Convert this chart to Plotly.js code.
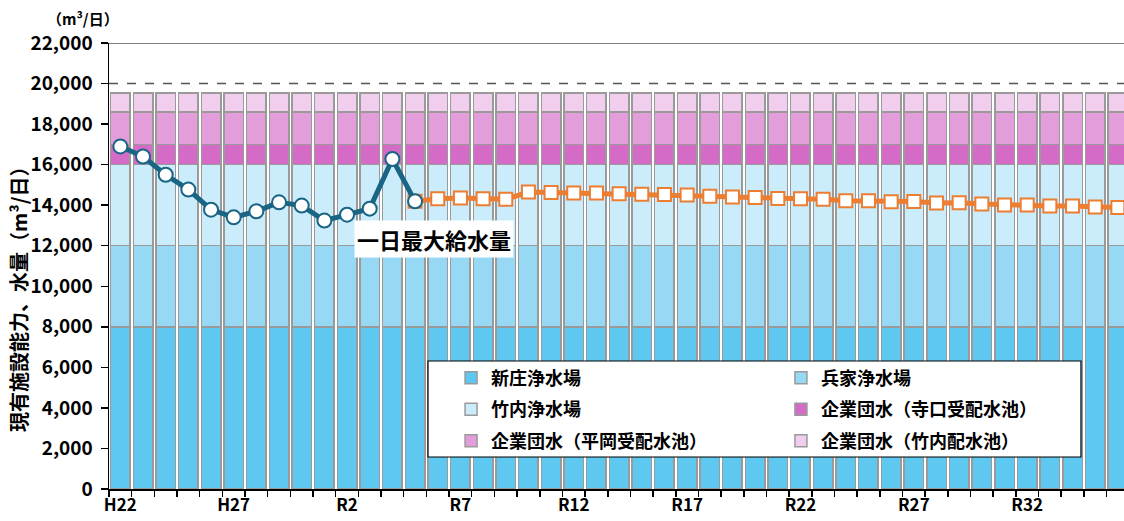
<!DOCTYPE html>
<html>
<head>
<meta charset="utf-8">
<script src="https://cdn.plot.ly/plotly-3.0.1.min.js"></script>
<style>html,body{margin:0;padding:0;background:#fff;}#chart{width:1124px;height:521px;}</style>
</head>
<body>
<div id="chart"></div>
<script>
// ---- data ----
const years = ['H22','H23','H24','H25','H26','H27','H28','H29','H30','R1',
  'R2','R3','R4','R5','R6','R7','R8','R9','R10','R11',
  'R12','R13','R14','R15','R16','R17','R18','R19','R20','R21',
  'R22','R23','R24','R25','R26','R27','R28','R29','R30','R31',
  'R32','R33','R34','R35','R36'];
const shownTickLabels = ['H22','H27','R2','R7','R12','R17','R22','R27','R32'];

const shinjo     = 8000;   // 新庄浄水場
const hyoge      = 4000;   // 兵家浄水場
const takenouchi = 4000;   // 竹内浄水場
const teraguchi  = 1000;   // 企業団水（寺口受配水池）
const hiraoka    = 1600;   // 企業団水（平岡受配水池）
const takeHaisui = 940;    // 企業団水（竹内配水池）

const actualMax = [16900,16400,15500,14770,13780,13400,13700,14140,13980,13240,
  13530,13830,16280,14190];
const forecastMax = [null,null,null,null,null,null,null,null,null,null,null,null,null,
  14190,14320,14350,14320,14290,14650,14630,14600,14600,14570,
  14540,14530,14500,14440,14400,14380,14335,14320,14290,14220,
  14220,14170,14180,14110,14120,14060,14010,14010,13960,13960,
  13910,13890];

const seriesNames = ['新庄浄水場','兵家浄水場','竹内浄水場','企業団水（寺口受配水池）','企業団水（平岡受配水池）','企業団水（竹内配水池）'];
const seriesValues = [shinjo, hyoge, takenouchi, teraguchi, hiraoka, takeHaisui];
const seriesColors = ['#5FC8F0','#97D9F5','#CBEDFB','#D46BC6','#E39DDB','#F2CEEE'];
const seriesLegend = ['legend','legend2','legend','legend2','legend','legend2'];

// ---- chart ----
const FONT = '"Noto Sans CJK JP", "Noto Sans", sans-serif';
const traces = [];
seriesNames.forEach((name, i) => {
  traces.push({
    type: 'bar', name: name, x: years, y: years.map(() => seriesValues[i]),
    marker: {color: seriesColors[i], line: {color: '#9a9a9a', width: 1.5}},
    legend: seriesLegend[i], legendgroup: 'g' + i,
    hoverinfo: 'skip'
  });
});
traces.push({
  type: 'scatter', mode: 'lines+markers', x: years, y: forecastMax, showlegend: false,
  line: {color: '#ED7D31', width: 5},
  marker: {symbol: 'square', size: 13, color: '#ffffff', line: {color: '#ED7D31', width: 2}},
  hoverinfo: 'skip'
});
traces.push({
  type: 'scatter', mode: 'lines+markers', x: years.slice(0, actualMax.length), y: actualMax, showlegend: false,
  line: {color: '#1A6484', width: 5},
  marker: {symbol: 'circle', size: 14, color: '#ffffff', line: {color: '#1A6484', width: 2}},
  hoverinfo: 'skip'
});

const tickText = years.map(y => shownTickLabels.includes(y) ? y : '');

const legendCommon = {
  yanchor: 'top', xanchor: 'left', bgcolor: 'rgba(0,0,0,0)', borderwidth: 0,
  font: {family: FONT, size: 18, color: '#000', weight: 'bold'}, tracegroupgap: 5, orientation: 'v'
};

const layout = {
  width: 1124, height: 521,
  margin: {l: 109, r: 0, t: 43, b: 32},
  paper_bgcolor: '#fff', plot_bgcolor: '#fff',
  barmode: 'stack', bargap: 0.14,
  showlegend: true,
  font: {family: FONT, color: '#000'},
  xaxis: {
    type: 'category', range: [-0.5, 44.27],
    tickmode: 'array', tickvals: years, ticktext: tickText, tickson: 'boundaries', tickangle: 0,
    ticks: 'outside', ticklen: 6, tickwidth: 1.5, tickcolor: '#000',
    showline: true, linecolor: '#000', linewidth: 1.5, showgrid: false, zeroline: false,
    tickfont: {family: FONT, size: 17, color: '#000', weight: 'bold'}, fixedrange: true
  },
  yaxis: {
    range: [0, 22000], tickmode: 'linear', tick0: 0, dtick: 2000, tickformat: ',d',
    ticks: 'outside', ticklen: 7, tickwidth: 1.5, tickcolor: '#000', ticklabelstandoff: 4,
    showline: true, linecolor: '#000', linewidth: 1.5, showgrid: false, zeroline: false,
    tickfont: {family: FONT, size: 19, color: '#000', weight: 'bold'}, fixedrange: true
  },
  legend: Object.assign({x: 0.337, y: 0.29}, legendCommon),
  legend2: Object.assign({x: 0.662, y: 0.29}, legendCommon),
  shapes: [
    {type: 'line', xref: 'paper', yref: 'y', x0: 0, x1: 1, y0: 22000, y1: 22000, line: {color: '#000', width: 1.2}},
    {type: 'line', xref: 'paper', yref: 'y', x0: 0, x1: 1, y0: 20000, y1: 20000, line: {color: '#555', width: 1.5, dash: 'dash'}},
    {type: 'rect', xref: 'paper', yref: 'paper', x0: 0.3143, x1: 0.9576, y0: 0.0717, y1: 0.287,
      fillcolor: '#fff', line: {color: '#000', width: 1.2}, layer: 'above'}
  ],
  annotations: [
    {text: '一日最大給水量', xref: 'x', yref: 'y', x: 13.84, y: 12330, xanchor: 'center', yanchor: 'middle', showarrow: false,
      font: {family: FONT, size: 22, color: '#000', weight: 'bold'}, bgcolor: '#fff', borderpad: 2},
    {text: '（m³/日）', xref: 'paper', yref: 'paper', x: 0, y: 1, xshift: -26, yshift: 25, xanchor: 'center', yanchor: 'middle',
      showarrow: false, font: {family: FONT, size: 15, color: '#000', weight: 'bold'}},
    {text: '現有施設能力、水量（m³/日）', xref: 'paper', yref: 'paper', x: 0, y: 0.437, xshift: -91,
      xanchor: 'center', yanchor: 'middle',
      textangle: -90, showarrow: false, font: {family: FONT, size: 20, color: '#000', weight: 'bold'}}
  ]
};

Plotly.newPlot('chart', traces, layout, {staticPlot: true, displayModeBar: false});
</script>
</body>
</html>
